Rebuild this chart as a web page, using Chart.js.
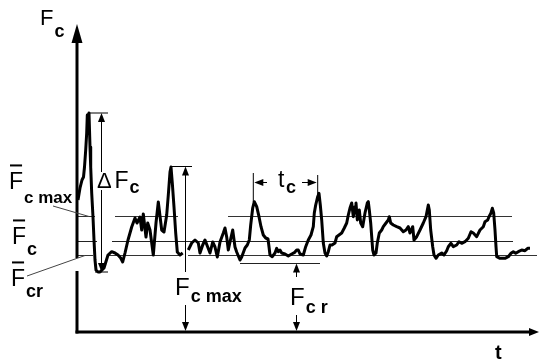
<!DOCTYPE html>
<html>
<head>
<meta charset="utf-8">
<script src="https://cdn.jsdelivr.net/npm/chart.js@4.4.0/dist/chart.umd.min.js"></script>
<style>
  html, body { margin: 0; padding: 0; background: #fff; }
  canvas { display: block; }
</style>
</head>
<body>
<canvas id="grafico" width="539" height="364"></canvas>
<script>
// === DADOS (t e Fc em unidades arbitrárias) ===
const tempo = [
  0.1, 0.3, 0.5, 0.65, 0.75, 0.87, 0.97, 1.03, 1.1, 1.2, 1.3, 1.37, 1.47, 1.6, 1.7, 1.8, 1.9, 2.1, 2.3, 2.7,
  3.1, 3.47, 3.8, 4.1, 4.37, 4.57, 4.8, 5.1, 5.47, 5.8, 6.0, 6.3, 6.47, 6.63, 6.9, 7.07, 7.3, 7.63, 7.9, 8.13,
  8.47, 8.7, 8.97, 9.13, 9.3, 9.4, 9.53, 9.7, 9.87, 10.03, 10.3, 10.57,
  10.85,
  11.13, 11.47, 11.8, 12.13, 12.3, 12.57, 12.8, 13.07, 13.3, 13.57, 13.8, 14.03, 14.3, 14.63, 14.8, 14.97, 15.13, 15.3, 15.57, 15.8,
  15.97, 16.3, 16.47, 16.8, 17.03, 17.23, 17.37, 17.57, 17.73, 17.97, 18.2, 18.4, 18.63, 18.87, 19.1, 19.2, 19.3, 19.53, 19.8, 19.97,
  20.13, 20.3, 20.47, 20.8, 21.13, 21.47, 21.73, 21.97, 22.13, 22.3, 22.63, 22.87, 23.13, 23.4, 23.63, 23.73, 23.87, 24.07, 24.2, 24.33,
  24.47, 24.63, 24.8, 24.97, 25.13, 25.3, 25.5, 25.8, 25.97, 26.2, 26.47, 26.73, 26.97, 27.13, 27.3, 27.47, 27.63, 27.8, 27.9, 28.03,
  28.23, 28.37, 28.57, 28.8, 29.03, 29.13, 29.23, 29.37, 29.47, 29.57, 29.7, 29.9, 30.03, 30.23, 30.47, 30.63, 30.9, 31.13, 31.23, 31.37,
  31.63, 31.97, 32.3, 32.63, 32.9, 33.13, 33.3, 33.57, 33.7, 33.97, 34.3, 34.63, 34.9, 35.13, 35.23, 35.37, 35.57, 35.7, 35.9, 36.13,
  36.47, 36.7, 36.97, 37.13, 37.4, 37.63, 37.97, 38.2, 38.47, 38.8, 39.13, 39.4, 39.63, 39.97, 40.3, 40.63, 40.8, 41.07, 41.2, 41.4,
  41.53, 41.67, 41.8, 41.9, 41.97, 42.3, 42.8, 43.13, 43.4, 43.63, 43.87, 44.13, 44.47, 44.8, 45.07, 45.3
];
const forca = [
  13.2, 14.4, 15.2, 15.5, 16.5, 18.2, 19.9, 21.7, 21.0, 21.9, 18.5, 16.5, 13.9, 11.5, 9.2, 7.2, 6.2, 6.0, 6.0, 6.4,
  7.7, 8.03, 7.9, 7.7, 7.4, 7.0, 7.9, 9.2, 10.5, 11.4, 10.9, 11.5, 10.2, 11.8, 9.5, 10.9, 10.2, 7.7, 10.9, 13.0,
  10.2, 10.0, 11.7, 13.7, 16.0, 16.5, 14.9, 12.5, 9.9, 8.0, 7.7, 7.9,
  null,
  8.2, 8.9, 9.2, 8.9, 7.9, 8.7, 9.2, 8.5, 7.9, 9.0, 8.5, 7.5, 9.0, 9.9, 10.4, 9.5, 8.2, 9.0, 10.2, 8.5,
  8.0, 7.2, 7.5, 8.4, 8.7, 9.2, 10.7, 12.4, 13.03, 12.53, 11.53, 10.53, 9.7, 9.4, 9.3, 8.53, 7.7, 7.53, 7.9, 8.37,
  8.03, 8.2, 7.9, 7.8, 7.6, 7.8, 7.93, 8.2, 8.2, 7.8, 7.7, 8.53, 9.2, 9.7, 10.53, 11.9, 12.7, 13.53, 13.87, 12.7,
  11.2, 8.9, 7.9, 7.6, 8.03, 8.7, 8.7, 8.9, 9.53, 9.7, 9.9, 10.4, 10.9, 11.7, 12.4, 12.9, 11.53, 12.53, 12.9, 11.2,
  12.2, 10.9, 10.53, 11.9, 12.9, 13.03, 12.2, 10.9, 9.53, 8.2, 7.7, 7.9, 8.9, 9.9, 10.2, 10.53, 10.9, 11.2, 11.53, 10.9,
  10.7, 10.53, 10.4, 10.03, 10.2, 10.53, 9.9, 10.53, 9.2, 9.53, 10.2, 10.9, 11.53, 12.7, 12.2, 10.2, 8.53, 7.7, 7.37, 7.7,
  7.9, 7.7, 8.13, 8.53, 8.87, 8.53, 8.7, 9.03, 8.87, 9.03, 9.37, 10.03, 9.9, 9.53, 10.2, 10.53, 11.03, 11.2, 11.53, 11.9,
  12.37, 11.9, 10.2, 8.53, 7.53, 7.37, 7.37, 7.53, 7.87, 8.03, 7.87, 8.03, 8.2, 8.13, 8.37, 8.37
];

// níveis médios e trechos visíveis de cada linha [início, fim]
const nivelFcMax = 11.55;
const nivelFc = 9.05;
const nivelFcr = 7.65;
const nivelFcrMin = 6.85;
const trechosFcMax = [[0, 1.8], [3.8, 10.1], [15.1, 43.5]];
const trechosFc = [[0, 2.0], [3.5, 43.6]];
const trechosFcr = [[0, 1.6], [3.1, 10.4], [11.1, 46.0]];
const trechosFcrMin = [[16.3, 24.3]];

// cotas
const picoFcMax = 16.55;
const tempoDeltaFc = 2.45;
const tempoFcMax = 10.85;
const tempoFcr = 21.95;
const inicioTc = 17.63;
const fimTc = 24.07;

const limiteT = 46.2;
const limiteF = 30.7;

const curva = tempo.map((t, i) => ({ x: t, y: forca[i] }));

function linhaNivel(nivel, trechos) {
  return trechos.flatMap(([a, b]) => [{ x: a, y: nivel }, { x: b, y: nivel }, { x: b, y: null }]);
}

const FONTE = '"Liberation Sans", Arial, sans-serif';

// === DESENHO DE EIXOS, SETAS E RÓTULOS ===
const anotacoes = {
  id: 'anotacoes',
  afterDatasetsDraw(chart) {
    const { ctx, chartArea, scales: { x, y } } = chart;
    const X = v => x.getPixelForValue(v);
    const Y = v => y.getPixelForValue(v);
    ctx.save();
    ctx.strokeStyle = '#000';
    ctx.fillStyle = '#000';
    ctx.lineCap = 'butt';

    function linha(x1, y1, x2, y2, w) {
      ctx.lineWidth = w;
      ctx.beginPath();
      ctx.moveTo(x1, y1);
      ctx.lineTo(x2, y2);
      ctx.stroke();
    }
    function ponta(xp, yp, dir, comp, larg) {
      comp = comp || 9; larg = larg || 3.5;
      ctx.beginPath();
      ctx.moveTo(xp, yp);
      if (dir === 'cima') { ctx.lineTo(xp - larg, yp + comp); ctx.lineTo(xp + larg, yp + comp); }
      if (dir === 'baixo') { ctx.lineTo(xp - larg, yp - comp); ctx.lineTo(xp + larg, yp - comp); }
      if (dir === 'esq') { ctx.lineTo(xp + comp, yp - larg); ctx.lineTo(xp + comp, yp + larg); }
      if (dir === 'dir') { ctx.lineTo(xp - comp, yp - larg); ctx.lineTo(xp - comp, yp + larg); }
      ctx.closePath();
      ctx.fill();
    }
    function rotulo(t, f, sub, dy, barra, tamF, tamSub) {
      const xp = X(t), yp = Y(f);
      ctx.font = tamF + 'px ' + FONTE;
      ctx.fillText('F', xp, yp);
      const w = ctx.measureText('F').width;
      if (barra) ctx.fillRect(xp + 1, yp - tamF * 0.72 - 8, w - 2, 2);
      ctx.font = 'bold ' + tamSub + 'px ' + FONTE;
      ctx.fillText(sub, xp + w + 1, yp + dy);
    }

    // eixos
    const x0 = X(0), y0 = Y(0);
    linha(x0, chartArea.top + 17, x0, Y(7.4), 3);
    linha(x0, Y(6.1), x0, y0 + 1.5, 3);
    ponta(x0, chartArea.top - 1, 'cima', 19, 5.5);
    linha(x0 - 1.5, y0, chartArea.right - 9, y0, 3);
    ponta(chartArea.right, y0, 'dir', 10, 4);

    // linhas de chamada dos níveis
    ctx.strokeStyle = '#444';
    linha(X(-2.4), Y(12.6), X(1.2), Y(nivelFcMax), 1);
    linha(X(-5.0), Y(5.6), X(0.8), Y(nivelFcr), 1);
    ctx.strokeStyle = '#000';

    // ΔFc
    const topoD = Y(Math.max(...forca.filter(v => v !== null)));
    const baseD = Y(Math.min(...forca.filter(v => v !== null)));
    const xd = X(tempoDeltaFc);
    linha(X(1.1), topoD, X(3.1), topoD, 1);
    linha(X(1.8), baseD, X(3.1), baseD, 1);
    linha(xd, topoD + 8, xd, Y(16.0), 1);
    linha(xd, Y(14.2), xd, baseD - 8, 1);
    ponta(xd, topoD, 'cima');
    ponta(xd, baseD, 'baixo');

    // Fc max
    const xm = X(tempoFcMax);
    linha(X(9.3), Y(picoFcMax), X(11.5), Y(picoFcMax), 1);
    linha(xm, Y(picoFcMax) + 8, xm, Y(6.0), 1);
    ponta(xm, Y(picoFcMax), 'cima');
    linha(xm, Y(2.7), xm, y0 - 8, 1);
    ponta(xm, y0 - 1, 'baixo');

    // tc
    linha(X(inicioTc), Y(15.9), X(inicioTc), Y(13.0), 1);
    linha(X(fimTc), Y(15.7), X(fimTc), Y(13.7), 1);
    const ytc = Y(14.95);
    linha(X(inicioTc) + 8, ytc, X(19.0), ytc, 1);
    ponta(X(inicioTc) + 1, ytc, 'esq');
    linha(X(22.5), ytc, X(fimTc) - 8, ytc, 1);
    ponta(X(fimTc) - 1, ytc, 'dir');

    // Fcr
    const xr = X(tempoFcr);
    linha(xr, Y(5.5), xr, Y(nivelFcrMin) + 8, 1);
    ponta(xr, Y(nivelFcrMin), 'cima');
    linha(xr, Y(1.7), xr, y0 - 8, 1);
    ponta(xr, y0 - 1, 'baixo');

    // rótulos
    rotulo(-3.7, 30.7, 'c', 12, false, 22, 18);
    rotulo(-6.8, 14.3, 'c max', 14, true, 23, 17);
    rotulo(-6.5, 8.8, 'c', 11, true, 23, 18);
    rotulo(-6.6, 4.6, 'cr', 11, true, 23, 18);
    ctx.font = '22px ' + FONTE;
    ctx.fillText('Δ', X(2.0), Y(14.4));
    rotulo(3.75, 14.4, 'c', 5, false, 23, 18);
    rotulo(9.8, 3.7, 'c max', 7, false, 24, 18);
    rotulo(21.3, 2.7, 'c r', 8, false, 24, 18);
    ctx.font = '23px ' + FONTE;
    ctx.fillText('t', X(20.1), Y(14.5));
    ctx.font = 'bold 18px ' + FONTE;
    ctx.fillText('c', X(20.1) + 8, Y(14.5) + 6);
    ctx.font = 'bold 20px ' + FONTE;
    ctx.fillText('t', X(41.8), Y(-2.7));
    ctx.restore();
  }
};

new Chart(document.getElementById('grafico').getContext('2d'), {
  type: 'line',
  data: {
    datasets: [
      { data: curva, borderColor: '#000', borderWidth: 3, pointRadius: 0, borderJoinStyle: 'round', spanGaps: false, clip: false },
      { data: linhaNivel(nivelFcMax, trechosFcMax), borderColor: '#333', borderWidth: 1, pointRadius: 0, spanGaps: false, clip: false },
      { data: linhaNivel(nivelFc, trechosFc), borderColor: '#222', borderWidth: 1, pointRadius: 0, spanGaps: false, clip: false },
      { data: linhaNivel(nivelFcr, trechosFcr), borderColor: '#333', borderWidth: 1, pointRadius: 0, spanGaps: false, clip: false },
      { data: linhaNivel(nivelFcrMin, trechosFcrMin), borderColor: '#222', borderWidth: 1, pointRadius: 0, spanGaps: false, clip: false }
    ]
  },
  options: {
    responsive: false,
    animation: false,
    layout: { padding: { left: 77, right: 0, top: 25, bottom: 32 } },
    scales: {
      x: { type: 'linear', min: 0, max: limiteT, display: false },
      y: { type: 'linear', min: 0, max: limiteF, display: false }
    },
    plugins: { legend: { display: false }, tooltip: { enabled: false } }
  },
  plugins: [anotacoes]
});
</script>
</body>
</html>
